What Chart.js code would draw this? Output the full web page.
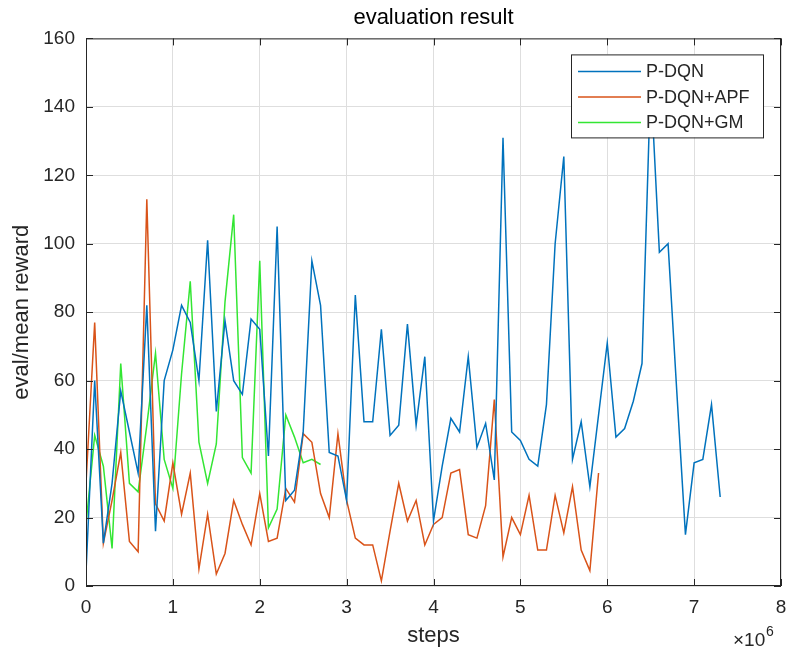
<!DOCTYPE html>
<html>
<head>
<meta charset="utf-8">
<script src="https://cdn.jsdelivr.net/npm/chart.js@4.4.0/dist/chart.umd.min.js"></script>
<style>
  html, body { margin: 0; padding: 0; background: #fff; }
</style>
</head>
<body>
<canvas id="myChart" width="788" height="655"></canvas>
<script>
// evaluation every 1e5 steps
const evalEvery = 100000
const xTickValues = [0, 1, 2, 3, 4, 5, 6, 7, 8]
const yTickValues = [0, 20, 40, 60, 80, 100, 120, 140, 160]

const seriesNames = ['P-DQN', 'P-DQN+APF', 'P-DQN+GM']
const seriesColors = ['#0072BD', '#D95319', '#33e633']

const pdqn = [4, 60, 12.5, 30, 57, 45, 33, 82, 16, 60,
  69, 82, 77, 60, 101, 51, 77.5, 60, 56, 78,
  75, 38, 105, 25, 28, 45, 95, 82, 39, 38,
  25, 85, 48, 48, 75, 44, 47, 76.5, 47, 67,
  19, 35, 49, 45, 67, 40.5, 47.5, 31, 131, 45,
  42.5, 37, 35, 53, 100, 125.5, 37, 48, 29, 50,
  71, 43.5, 46, 54, 65, 148, 97.5, 100, 57, 15,
  36, 37, 53, 26]

const pdqnApf = [30, 77, 12.5, 25, 39, 13, 10, 113, 24, 19,
  36, 21, 33, 5, 21, 3.5, 9.5, 25, 18, 12,
  27, 13, 14, 28.5, 24.5, 44.5, 42, 27, 20, 44.5,
  25, 14, 12, 12, 1.5, 16, 30, 19, 25, 12,
  18, 20, 33, 34, 15, 14, 23.5, 54.5, 8.5, 20,
  15, 26.5, 10.5, 10.5, 26.5, 15.5, 29, 10.5, 4.5, 33]

const pdqnGm = [18, 44, 35, 11, 65, 30, 27.5, 47, 68, 37,
  28.5, 62, 89, 42, 30, 41.5, 83, 108.5, 37.5, 33,
  95, 17, 22.5, 50, 43.5, 36, 37, 35.5]

const toPoints = (arr) => arr.map((v, i) => ({ x: i * evalEvery, y: v }))

const FONT = 'Liberation Sans, Arial, Helvetica, sans-serif'
const TXT = '#262626'

// MATLAB-like box, inward ticks, legend and x exponent
const matlabAxes = {
  id: 'matlabAxes',
  afterDatasetsDraw(chart) {
    const { ctx, chartArea: a, scales } = chart
    ctx.save()
    ctx.strokeStyle = TXT
    ctx.lineWidth = 1
    ctx.strokeRect(a.left + 0.5, a.top + 0.5, a.right - a.left - 1, a.bottom - a.top - 1)
    ctx.beginPath()
    yTickValues.forEach(v => {
      const y = Math.round(scales.y.getPixelForValue(v)) + 0.5
      ctx.moveTo(a.left, y); ctx.lineTo(a.left + 7, y)
      ctx.moveTo(a.right, y); ctx.lineTo(a.right - 7, y)
    })
    xTickValues.forEach(v => {
      const x = Math.round(scales.x.getPixelForValue(v * 1e6)) + 0.5
      ctx.moveTo(x, a.bottom); ctx.lineTo(x, a.bottom - 7)
      ctx.moveTo(x, a.top); ctx.lineTo(x, a.top + 7)
    })
    ctx.stroke()

    // legend
    const bx = a.right - 210, by = a.top + 16, bw = 192, bh = 83
    ctx.fillStyle = '#fff'
    ctx.fillRect(bx, by, bw, bh)
    ctx.strokeStyle = '#262626'
    ctx.strokeRect(bx + 0.5, by + 0.5, bw, bh)
    ctx.font = '18px ' + FONT
    ctx.textBaseline = 'middle'
    ctx.textAlign = 'left'
    seriesNames.forEach((name, i) => {
      const y = by + 17 + i * 25.5
      ctx.strokeStyle = seriesColors[i]
      ctx.lineWidth = 1.5
      ctx.beginPath()
      ctx.moveTo(bx + 7, y); ctx.lineTo(bx + 70, y)
      ctx.stroke()
      ctx.fillStyle = TXT
      ctx.fillText(name, bx + 75, y + 1)
    })

    // x10^6
    ctx.fillStyle = TXT
    ctx.textAlign = 'left'
    ctx.font = '19px ' + FONT
    ctx.fillText('\u00d710', a.right - 48, a.bottom + 55)
    ctx.font = '14px ' + FONT
    ctx.fillText('6', a.right - 15, a.bottom + 46)
    ctx.restore()
  }
}

const data = {
  datasets: [
    { label: seriesNames[0], data: toPoints(pdqn), borderColor: seriesColors[0] },
    { label: seriesNames[1], data: toPoints(pdqnApf), borderColor: seriesColors[1] },
    { label: seriesNames[2], data: toPoints(pdqnGm), borderColor: seriesColors[2] }
  ].map(d => Object.assign(d, { borderWidth: 1.5, pointRadius: 0, tension: 0, fill: false }))
}

const config = {
  type: 'line',
  data: data,
  options: {
    responsive: false,
    animation: false,
    devicePixelRatio: 1,
    layout: { padding: { top: 0, right: 7, bottom: 0, left: 0 } },
    plugins: {
      legend: { display: false },
      tooltip: { enabled: false },
      title: {
        display: true,
        fullSize: false,
        text: 'evaluation result',
        color: '#000',
        font: { family: FONT, size: 22, weight: 'normal' },
        padding: { top: 5, bottom: 7 }
      }
    },
    scales: {
      x: {
        type: 'linear',
        min: 0,
        max: 8e6,
        afterFit: (s) => { s.height = 69; s.paddingLeft = 0; s.paddingRight = 0 },
        afterBuildTicks: (s) => { s.ticks = xTickValues.map(v => ({ value: v * 1e6 })) },
        ticks: {
          color: TXT,
          padding: 10,
          maxRotation: 0,
          font: { family: FONT, size: 19 },
          callback: (v) => v / 1e6
        },
        grid: { color: '#dedede', drawTicks: false },
        border: { display: false },
        title: {
          display: true,
          text: 'steps',
          color: TXT,
          font: { family: FONT, size: 22 },
          padding: { top: 0, bottom: 6 }
        }
      },
      y: {
        min: 0,
        max: 160,
        afterFit: (s) => { s.width = 86 },
        afterBuildTicks: (s) => { s.ticks = yTickValues.map(v => ({ value: v })) },
        ticks: {
          color: TXT,
          padding: 11,
          font: { family: FONT, size: 19 }
        },
        grid: { color: '#dedede', drawTicks: false },
        border: { display: false },
        title: {
          display: true,
          text: 'eval/mean reward',
          color: TXT,
          font: { family: FONT, size: 22 },
          padding: { top: 9, bottom: 0 }
        }
      }
    }
  },
  plugins: [matlabAxes]
}

const myChart = new Chart(document.getElementById('myChart'), config)
</script>
</body>
</html>
